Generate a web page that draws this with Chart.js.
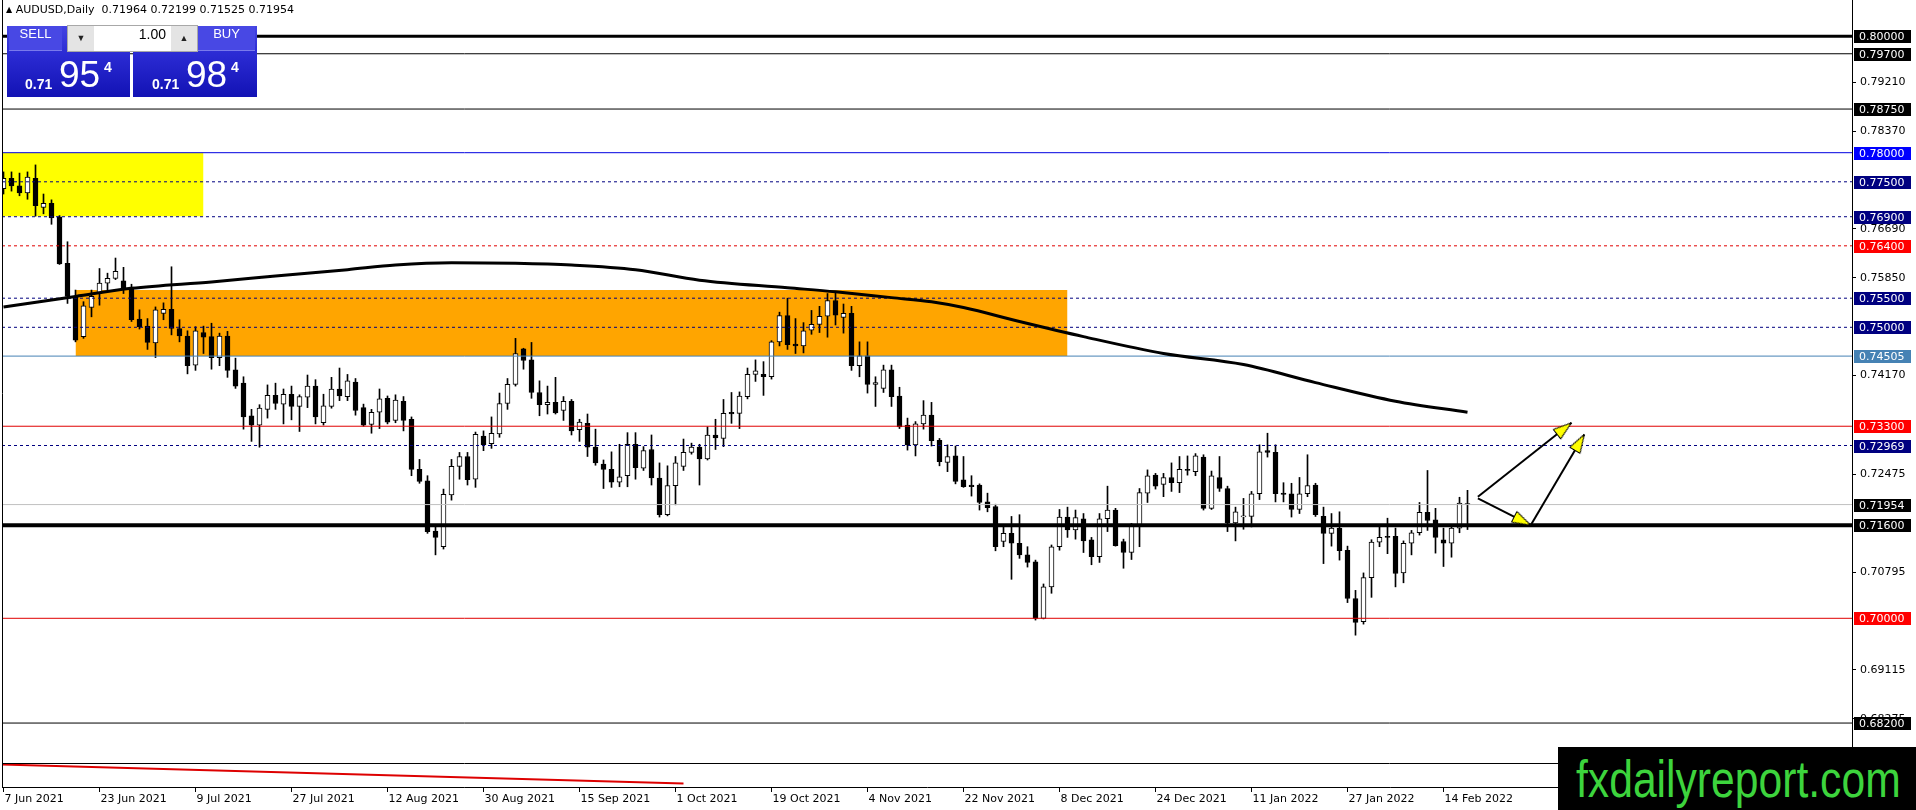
<!DOCTYPE html>
<html>
<head>
<meta charset="utf-8">
<script src="https://cdn.jsdelivr.net/npm/chart.js@4.4.1/dist/chart.umd.min.js"></script>
<style>
html, body { margin: 0; padding: 0; background: #fff; }
#wrap { position: relative; width: 1916px; height: 810px; overflow: hidden; }
#c { position: absolute; left: 0; top: 0; }
#hdr { position: absolute; left: 6px; top: 3px; font: 11px "DejaVu Sans"; color: #000; white-space: pre; line-height: 13px; }
#hdr .tri { font-size: 8px; vertical-align: 1px; }
.blk { position: absolute; top: 26px; height: 71px; background: linear-gradient(#4343e2 0%, #2b2bd3 40%, #1212b4 100%); }
.btn { position: absolute; top: 26px; height: 24px; line-height: 24px; color: #fff; font: 13px "Liberation Sans"; text-align: center; border-bottom: 1px solid #7a7aec; background: #4848e4; }
#spin { position: absolute; left: 67px; top: 25px; width: 129px; height: 25px; background: #fff; border: 1px solid #a8a8a8; }
.arr { position: absolute; top: 0; width: 26px; height: 25px; line-height: 25px; background: #e4e4e4; font-size: 9px; text-align: center; color: #222; }
#lot { position: absolute; right: 31px; top: 0; line-height: 25px; font: 14px "Liberation Sans"; color: #000; }
.px { position: absolute; color: #fff; font-family: "Liberation Sans"; line-height: 1; }
.sm { font-size: 14px; font-weight: bold; top: 77px; }
.bg { font-size: 37px; top: 56px; }
.sp { font-size: 14px; font-weight: bold; top: 60px; }
#wm { position: absolute; left: 1558px; top: 747px; width: 358px; height: 63px; background: #000; overflow: hidden; }
#wm span { position: absolute; left: 18px; top: 6px; font: 52px "Liberation Sans"; line-height: 52px; color: #3dd43d; white-space: nowrap; transform: scaleX(0.82); transform-origin: left top; }
</style>
</head>
<body>
<div id="wrap">
<canvas id="c" width="1916" height="810"></canvas>
<div id="hdr"><span class="tri">&#9650;</span> AUDUSD,Daily  0.71964 0.72199 0.71525 0.71954</div>
<div class="blk" style="left:7px;width:123px"></div>
<div class="blk" style="left:133px;width:124px"></div>
<div class="btn" style="left:9px;width:53px">SELL</div>
<div class="btn" style="left:198px;width:57px">BUY</div>
<div id="spin">
  <div class="arr" style="left:0">&#9660;</div>
  <div id="lot">1.00</div>
  <div class="arr" style="right:0">&#9650;</div>
</div>
<span class="px sm" style="left:25px">0.71</span>
<span class="px bg" style="left:59px">95</span>
<span class="px sp" style="left:104px">4</span>
<span class="px sm" style="left:152px">0.71</span>
<span class="px bg" style="left:186px">98</span>
<span class="px sp" style="left:231px">4</span>
<div id="wm"><span>fxdailyreport.com</span></div>
</div>

<script>
// AUDUSD daily, 7 Jun 2021 .. 17 Feb 2022 (bar index 0..183)
const OPEN = [
  0.7738, 0.7756, 0.7743, 0.7731, 0.7756, 0.7706, 0.7713, 0.7690, 0.7610, 0.7553,
  0.7484, 0.7534, 0.7558, 0.7576, 0.7584, 0.7580, 0.7569, 0.7514, 0.7502, 0.7473,
  0.7524, 0.7531, 0.7498, 0.7485, 0.7435, 0.7491, 0.7484, 0.7448, 0.7485, 0.7427,
  0.7404, 0.7348, 0.7332, 0.7359, 0.7383, 0.7368, 0.7385, 0.7364, 0.7380, 0.7399,
  0.7336, 0.7364, 0.7394, 0.7381, 0.7406, 0.7362, 0.7333, 0.7354, 0.7378, 0.7340,
  0.7373, 0.7342, 0.7256, 0.7236, 0.7150, 0.7123, 0.7212, 0.7261, 0.7278, 0.7239,
  0.7313, 0.7300, 0.7317, 0.7369, 0.7402, 0.7463, 0.7444, 0.7388, 0.7367, 0.7371,
  0.7357, 0.7373, 0.7324, 0.7335, 0.7294, 0.7265, 0.7256, 0.7234, 0.7245, 0.7299,
  0.7258, 0.7290, 0.7241, 0.7178, 0.7228, 0.7261, 0.7285, 0.7294, 0.7274, 0.7315,
  0.7309, 0.7354, 0.7352, 0.7381, 0.7419, 0.7419, 0.7415, 0.7475, 0.7520, 0.7471,
  0.7468, 0.7495, 0.7505, 0.7519, 0.7546, 0.7517, 0.7524, 0.7434, 0.7451, 0.7402,
  0.7395, 0.7427, 0.7382, 0.7332, 0.7298, 0.7334, 0.7349, 0.7306, 0.7268, 0.7279,
  0.7238, 0.7229, 0.7229, 0.7200, 0.7192, 0.7132, 0.7146, 0.7129, 0.7109, 0.7097,
  0.7000, 0.7054, 0.7123, 0.7174, 0.7152, 0.7171, 0.7135, 0.7106, 0.7171, 0.7186,
  0.7132, 0.7113, 0.7159, 0.7215, 0.7246, 0.7230, 0.7242, 0.7233, 0.7256, 0.7252,
  0.7277, 0.7189, 0.7242, 0.7223, 0.7164, 0.7174, 0.7175, 0.7214, 0.7288, 0.7285,
  0.7215, 0.7214, 0.7187, 0.7214, 0.7229, 0.7175, 0.7146, 0.7155, 0.7117, 0.7034,
  0.6994, 0.7070, 0.7131, 0.7141, 0.7141, 0.7078, 0.7129, 0.7147, 0.7182, 0.7169,
  0.7135, 0.7129, 0.7155, 0.71964
];
const HIGH = [
  0.7767, 0.7767, 0.7765, 0.7767, 0.7779, 0.7729, 0.7719, 0.7692, 0.7647, 0.7564,
  0.7544, 0.7564, 0.7601, 0.7593, 0.7619, 0.7603, 0.7574, 0.7530, 0.7515, 0.7535,
  0.7542, 0.7604, 0.7513, 0.7494, 0.7501, 0.7502, 0.7507, 0.7490, 0.7493, 0.7447,
  0.7415, 0.7359, 0.7367, 0.7401, 0.7404, 0.7394, 0.7399, 0.7384, 0.7418, 0.7410,
  0.7385, 0.7414, 0.7430, 0.7419, 0.7412, 0.7368, 0.7359, 0.7394, 0.7382, 0.7384,
  0.7381, 0.7346, 0.7273, 0.7245, 0.7159, 0.7222, 0.7273, 0.7285, 0.7285, 0.7320,
  0.7322, 0.7346, 0.7387, 0.7412, 0.7481, 0.7464, 0.7474, 0.7408, 0.7399, 0.7414,
  0.7381, 0.7376, 0.7342, 0.7351, 0.7325, 0.7272, 0.7286, 0.7299, 0.7319, 0.7319,
  0.7295, 0.7315, 0.7267, 0.7262, 0.7278, 0.7308, 0.7301, 0.7299, 0.7329, 0.7342,
  0.7376, 0.7388, 0.7389, 0.7430, 0.7444, 0.7441, 0.7477, 0.7526, 0.7550, 0.7515,
  0.7508, 0.7529, 0.7536, 0.7558, 0.7560, 0.7540, 0.7536, 0.7475, 0.7475, 0.7415,
  0.7435, 0.7435, 0.7397, 0.7344, 0.7338, 0.7374, 0.7371, 0.7309, 0.7298, 0.7296,
  0.7278, 0.7245, 0.7231, 0.7215, 0.7196, 0.7158, 0.7175, 0.7178, 0.7123, 0.7100,
  0.7059, 0.7126, 0.7187, 0.7191, 0.7186, 0.7180, 0.7139, 0.7180, 0.7227, 0.7189,
  0.7136, 0.7163, 0.7223, 0.7255, 0.7249, 0.7249, 0.7267, 0.7278, 0.7279, 0.7283,
  0.7281, 0.7253, 0.7278, 0.7227, 0.7191, 0.7206, 0.7218, 0.7298, 0.7318, 0.7298,
  0.7233, 0.7232, 0.7242, 0.7281, 0.7232, 0.7191, 0.7180, 0.7183, 0.7124, 0.7048,
  0.7078, 0.7135, 0.7159, 0.7172, 0.7155, 0.7133, 0.7151, 0.7199, 0.7254, 0.7189,
  0.7155, 0.7159, 0.7208, 0.72199
];
const LOW = [
  0.7729, 0.7734, 0.7726, 0.7720, 0.7691, 0.7695, 0.7677, 0.7608, 0.7541, 0.7475,
  0.7481, 0.7518, 0.7538, 0.7564, 0.7582, 0.7558, 0.7510, 0.7497, 0.7462, 0.7448,
  0.7513, 0.7487, 0.7475, 0.7420, 0.7426, 0.7455, 0.7428, 0.7434, 0.7414, 0.7395,
  0.7325, 0.7304, 0.7294, 0.7344, 0.7359, 0.7334, 0.7341, 0.7321, 0.7362, 0.7334,
  0.7332, 0.7361, 0.7374, 0.7374, 0.7349, 0.7330, 0.7318, 0.7326, 0.7334, 0.7336,
  0.7322, 0.7245, 0.7232, 0.7146, 0.7109, 0.7119, 0.7203, 0.7239, 0.7229, 0.7225,
  0.7288, 0.7292, 0.7311, 0.7359, 0.7399, 0.7428, 0.7378, 0.7348, 0.7351, 0.7351,
  0.7340, 0.7315, 0.7304, 0.7278, 0.7263, 0.7223, 0.7225, 0.7226, 0.7226, 0.7239,
  0.7254, 0.7229, 0.7174, 0.7176, 0.7195, 0.7254, 0.7282, 0.7229, 0.7272, 0.7290,
  0.7295, 0.7335, 0.7326, 0.7377, 0.7407, 0.7383, 0.7411, 0.7468, 0.7462, 0.7455,
  0.7456, 0.7488, 0.7491, 0.7483, 0.7504, 0.7490, 0.7426, 0.7415, 0.7387, 0.7364,
  0.7388, 0.7364, 0.7326, 0.7289, 0.7279, 0.7325, 0.7296, 0.7262, 0.7252, 0.7231,
  0.7225, 0.7210, 0.7186, 0.7183, 0.7116, 0.7123, 0.7067, 0.7103, 0.7088, 0.6997,
  0.6999, 0.7043, 0.7117, 0.7139, 0.7136, 0.7113, 0.7092, 0.7096, 0.7149, 0.7124,
  0.7086, 0.7101, 0.7123, 0.7199, 0.7222, 0.7209, 0.7218, 0.7216, 0.7246, 0.7245,
  0.7186, 0.7187, 0.7218, 0.7149, 0.7133, 0.7153, 0.7157, 0.7204, 0.7277, 0.7200,
  0.7200, 0.7174, 0.7180, 0.7209, 0.7175, 0.7094, 0.7124, 0.7100, 0.7027, 0.6971,
  0.6990, 0.7036, 0.7123, 0.7111, 0.7054, 0.7061, 0.7109, 0.7143, 0.7151, 0.7112,
  0.7089, 0.7105, 0.7147, 0.71525
];
const CLOSE = [
  0.7756, 0.7743, 0.7731, 0.7758, 0.7709, 0.7713, 0.7688, 0.7609, 0.7553, 0.7478,
  0.7537, 0.7553, 0.7576, 0.7584, 0.7596, 0.7568, 0.7513, 0.7501, 0.7474, 0.7530,
  0.7531, 0.7498, 0.7485, 0.7434, 0.7494, 0.7483, 0.7448, 0.7485, 0.7426, 0.7399,
  0.7346, 0.7332, 0.7361, 0.7383, 0.7369, 0.7385, 0.7364, 0.7381, 0.7399, 0.7346,
  0.7365, 0.7394, 0.7382, 0.7408, 0.7357, 0.7332, 0.7354, 0.7377, 0.7337, 0.7375,
  0.7340, 0.7256, 0.7235, 0.7149, 0.7139, 0.7213, 0.7261, 0.7278, 0.7238, 0.7316,
  0.7298, 0.7318, 0.7369, 0.7402, 0.7455, 0.7443, 0.7388, 0.7367, 0.7371, 0.7353,
  0.7373, 0.7322, 0.7337, 0.7294, 0.7267, 0.7256, 0.7234, 0.7243, 0.7299, 0.7259,
  0.7288, 0.7241, 0.7178, 0.7228, 0.7267, 0.7285, 0.7294, 0.7274, 0.7315, 0.7310,
  0.7352, 0.7351, 0.7382, 0.7419, 0.7425, 0.7415, 0.7475, 0.7520, 0.7470, 0.7468,
  0.7494, 0.7505, 0.7519, 0.7546, 0.7521, 0.7524, 0.7434, 0.7451, 0.7402, 0.7405,
  0.7427, 0.7381, 0.7329, 0.7298, 0.7334, 0.7349, 0.7305, 0.7269, 0.7278, 0.7235,
  0.7226, 0.7226, 0.7199, 0.7190, 0.7123, 0.7146, 0.7129, 0.7109, 0.7096, 0.7000,
  0.7054, 0.7123, 0.7174, 0.7152, 0.7173, 0.7133, 0.7106, 0.7171, 0.7186, 0.7125,
  0.7113, 0.7159, 0.7216, 0.7245, 0.7227, 0.7242, 0.7233, 0.7256, 0.7254, 0.7279,
  0.7189, 0.7245, 0.7223, 0.7164, 0.7183, 0.7176, 0.7214, 0.7286, 0.7285, 0.7214,
  0.7213, 0.7187, 0.7214, 0.7228, 0.7178, 0.7146, 0.7155, 0.7116, 0.7034, 0.6993,
  0.7070, 0.7131, 0.7139, 0.7139, 0.7077, 0.7129, 0.7147, 0.7182, 0.7168, 0.7139,
  0.7129, 0.7155, 0.7198, 0.71954
];

// moving average read at some bars
const MA_BARS   = [0, 9, 16, 26, 34, 43, 49, 56, 64, 71, 79, 87, 98, 104, 111, 116, 120, 127, 135, 145, 155, 164, 174, 183];
const MA_VALUES = [0.7535, 0.7553, 0.7567, 0.7578, 0.7588, 0.7599, 0.7607, 0.7611, 0.7610, 0.7607, 0.7599, 0.7581,
                   0.7568, 0.7561, 0.7551, 0.7544, 0.7534, 0.7510, 0.7484, 0.7455, 0.7436, 0.7405, 0.7373, 0.7354];

// sub window indicator (red line)
const IND_BARS = [-1, 85];
const IND_VALUES = [0.95, 0.15];

// date labels, one every 12 bars
const TICK_LABELS = ['7 Jun 2021', '23 Jun 2021', '9 Jul 2021', '27 Jul 2021', '12 Aug 2021', '30 Aug 2021',
  '15 Sep 2021', '1 Oct 2021', '19 Oct 2021', '4 Nov 2021', '22 Nov 2021', '8 Dec 2021', '24 Dec 2021',
  '11 Jan 2022', '27 Jan 2022', '14 Feb 2022'];
const TICK_STEP = 12;
const PRICE_TICKS = [0.79210, 0.78370, 0.76690, 0.75850, 0.74170, 0.72475, 0.70795, 0.69115, 0.68275];

// horizontal levels and zones
const LEVEL_PRICES = [0.80000, 0.79700, 0.78750, 0.78000, 0.77500, 0.76900, 0.76400, 0.75500,
                      0.75000, 0.74505, 0.73300, 0.72969, 0.71954, 0.71600, 0.70000, 0.68200];
const YELLOW_ZONE = { from: -1, to: 25, top: 0.7800, bottom: 0.7691 };
const ORANGE_ZONE = { from: 9, to: 133, top: 0.7564, bottom: 0.74505 };
const ARROW_FROM = [[184.3, 0.7209], [184.3, 0.7206], [190.9, 0.7160]];
const ARROW_TO   = [[196.0, 0.7336], [190.9, 0.7160], [197.6, 0.7316]];

const X_MIN = -0.1875, X_MAX = 231.0625;
const Y_MIN = 0.671014, Y_MAX = 0.806237;
const SUB_SPLIT = 0.6752;

const NAVY = '#000080', RED = '#e00000';
const LEVEL_STYLE = [
  { c: '#000', w: 3, box: '#000' }, { c: '#000', w: 1, box: '#000' }, { c: '#000', w: 1, box: '#000' },
  { c: '#0000e0', w: 1, box: '#0000ff' }, { c: NAVY, w: 1, d: [3, 3], box: NAVY }, { c: NAVY, w: 1, d: [3, 3], box: NAVY },
  { c: RED, w: 1, d: [3, 3], box: '#ff0000' }, { c: NAVY, w: 1, d: [3, 3], box: NAVY }, { c: NAVY, w: 1, d: [3, 3], box: NAVY },
  { c: '#4682b4', w: 1, box: '#4682b4' }, { c: RED, w: 1, box: '#ff0000' }, { c: NAVY, w: 1, d: [3, 3], box: NAVY },
  { c: '#c0c0c0', w: 1, box: '#000' }, { c: '#000', w: 4, box: '#000' }, { c: RED, w: 1, box: '#ff0000' },
  { c: '#000', w: 1, box: '#000' }
];

// yellow arrow head, tip at the centre of the little canvas, pointing up
const head = document.createElement('canvas');
head.width = 14;
head.height = 40;
const hc = head.getContext('2d');
hc.beginPath();
hc.moveTo(7, 20);
hc.lineTo(13, 38.5);
hc.lineTo(1, 38.5);
hc.closePath();
hc.fillStyle = '#ffff00';
hc.fill();
hc.strokeStyle = '#000';
hc.lineWidth = 1;
hc.stroke();

Chart.defaults.font.family = 'DejaVu Sans';
Chart.defaults.font.size = 11;

const zone = (z, color) => ({
  type: 'line',
  data: [{ x: z.from, y: z.top }, { x: z.to, y: z.top }],
  fill: { value: z.bottom },
  backgroundColor: color,
  borderWidth: 0,
  pointRadius: 0,
  order: 100
});

const datasets = [
  zone(YELLOW_ZONE, '#ffff00'),
  zone(ORANGE_ZONE, '#ffa500'),
  {
    type: 'bar',
    data: LOW.map((l, i) => ({ x: i, y: [l, HIGH[i]] })),
    backgroundColor: '#000',
    barThickness: 1,
    grouped: false,
    order: 50
  },
  {
    type: 'bar',
    data: OPEN.map((o, i) => ({ x: i, y: [o, CLOSE[i]] })),
    backgroundColor: OPEN.map((o, i) => CLOSE[i] > o ? '#fff' : '#000'),
    borderColor: '#000',
    borderWidth: 1,
    borderSkipped: false,
    barThickness: 5,
    minBarLength: 1,
    grouped: false,
    order: 40
  },
  {
    type: 'line',
    yAxisID: 'yi',
    data: IND_BARS.map((b, k) => ({ x: b, y: IND_VALUES[k] })),
    borderColor: '#dd0000',
    borderWidth: 2,
    pointRadius: 0,
    order: 30
  }
];

LEVEL_PRICES.forEach((p, k) => {
  const s = LEVEL_STYLE[k];
  datasets.push({
    type: 'line',
    data: [{ x: X_MIN, y: p }, { x: X_MAX, y: p }],
    borderColor: s.c,
    borderWidth: s.w,
    borderDash: s.d || [],
    pointRadius: 0,
    order: 20
  });
});

datasets.push({
  type: 'line',
  data: MA_BARS.map((b, k) => ({ x: b, y: MA_VALUES[k] })),
  borderColor: '#000',
  borderWidth: 3,
  pointRadius: 0,
  cubicInterpolationMode: 'monotone',
  order: 10
});

ARROW_FROM.forEach((a, k) => {
  const b = ARROW_TO[k];
  datasets.push({
    type: 'line',
    data: [{ x: a[0], y: a[1] }, { x: b[0], y: b[1] }],
    borderColor: '#000',
    borderWidth: 2,
    pointRadius: [0, 8],
    pointStyle: head,
    pointRotation: (ctx) => {
      const { x, y } = ctx.chart.scales;
      const dx = x.getPixelForValue(b[0]) - x.getPixelForValue(a[0]);
      const dy = y.getPixelForValue(b[1]) - y.getPixelForValue(a[1]);
      return Math.atan2(dx, -dy) * 180 / Math.PI;
    },
    order: 5
  });
});

// price boxes on the axis, frame and sub-window separator
const overlay = {
  id: 'overlay',
  afterDraw(chart) {
    const { ctx, chartArea: a, scales: { y } } = chart;
    ctx.save();
    ctx.strokeStyle = '#000';
    ctx.lineWidth = 1;
    ctx.beginPath();
    ctx.moveTo(a.left + 0.5, a.top);
    ctx.lineTo(a.left + 0.5, a.bottom);
    const sy = Math.round(y.getPixelForValue(SUB_SPLIT)) + 0.5;
    ctx.moveTo(a.left, sy);
    ctx.lineTo(a.right, sy);
    ctx.stroke();

    ctx.font = '11px "DejaVu Sans"';
    ctx.textBaseline = 'middle';
    LEVEL_PRICES.forEach((p, k) => {
      const py = Math.round(y.getPixelForValue(p));
      ctx.fillStyle = LEVEL_STYLE[k].box;
      ctx.fillRect(a.right + 2, py - 6, 57, 13);
      ctx.fillStyle = '#fff';
      ctx.fillText(p.toFixed(5), a.right + 7, py + 1);
    });
    ctx.restore();
  }
};

new Chart(document.getElementById('c'), {
  type: 'bar',
  data: { datasets },
  options: {
    responsive: false,
    animation: false,
    devicePixelRatio: 1,
    events: [],
    layout: { autoPadding: false, padding: { left: 2, top: 0, right: 0, bottom: 0 } },
    plugins: { legend: { display: false }, tooltip: { enabled: false } },
    scales: {
      x: {
        type: 'linear',
        position: 'bottom',
        min: X_MIN,
        max: X_MAX,
        bounds: 'data',
        offset: false,
        grid: { offset: false, drawOnChartArea: false, tickLength: 5, color: '#000' },
        border: { color: '#000' },
        ticks: {
          autoSkip: false, maxRotation: 0, align: 'start', labelOffset: 1, padding: 1, color: '#000',
          callback: (v, i) => TICK_LABELS[i]
        },
        afterBuildTicks: (s) => { s.ticks = TICK_LABELS.map((_, k) => ({ value: k * TICK_STEP })); },
        afterFit: (s) => { s.height = 23; s.paddingLeft = 0; s.paddingRight = 0; }
      },
      y: {
        type: 'linear',
        position: 'right',
        min: Y_MIN,
        max: Y_MAX,
        bounds: 'data',
        grid: { drawOnChartArea: false, tickLength: 4, color: '#000' },
        border: { color: '#000' },
        ticks: { autoSkip: false, padding: 4, color: '#000', callback: (v) => v.toFixed(5) },
        afterBuildTicks: (s) => { s.ticks = PRICE_TICKS.map((v) => ({ value: v })); },
        afterFit: (s) => { s.width = 64; s.paddingTop = 0; s.paddingBottom = 0; }
      },
      yi: { type: 'linear', display: false, min: 0, max: 787 / 24 }
    }
  },
  plugins: [overlay]
});
</script>
</body>
</html>
